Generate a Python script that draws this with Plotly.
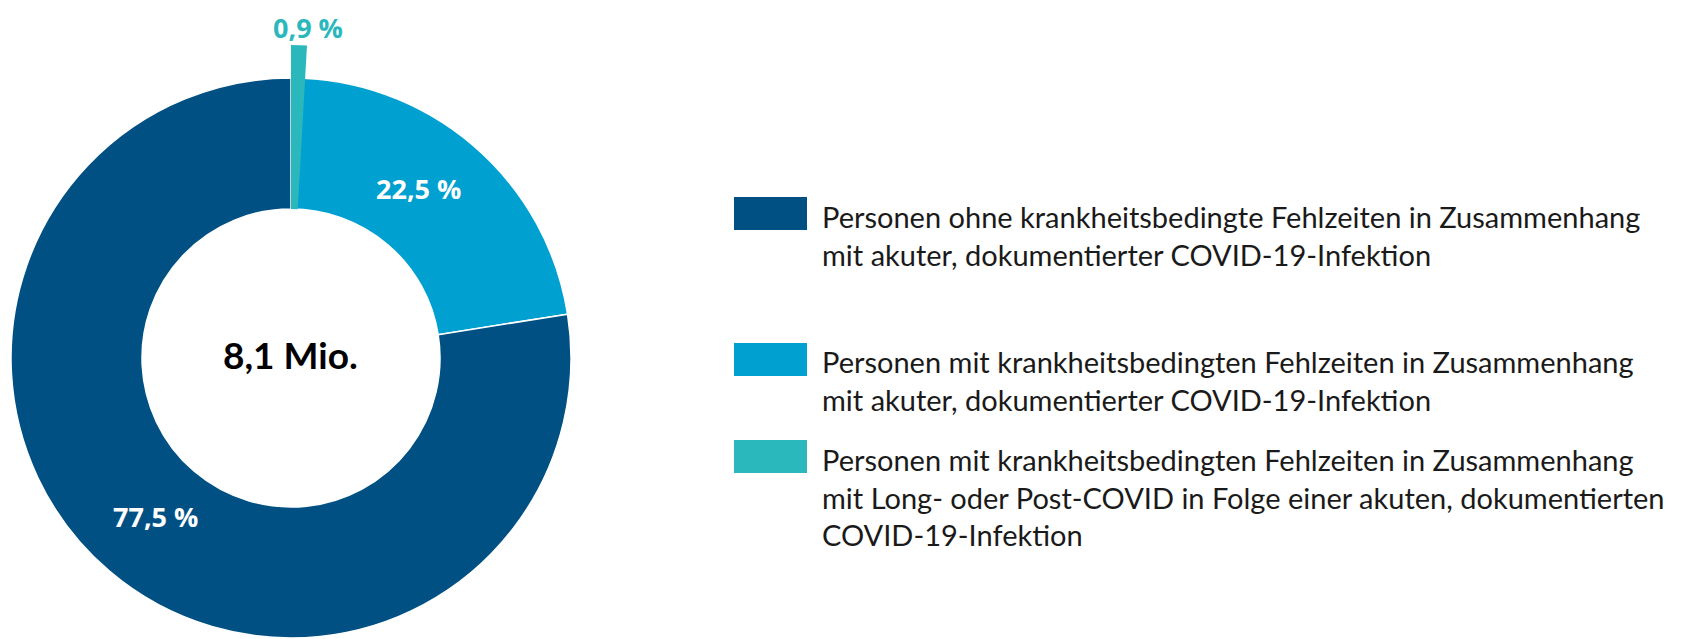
import plotly.graph_objects as go

# share of persons (in %) among 8.1 million insured persons
ring_labels = ["mit Fehlzeiten (akute COVID-19-Infektion)", "ohne Fehlzeiten"]
ring_values = [22.5, 77.5]
long_covid_value = 0.9
total_text = "8,1 Mio."

legend_labels = [
    "Personen ohne krankheitsbedingte Fehlzeiten in Zusammenhang<br>mit akuter, dokumentierter COVID-19-Infektion",
    "Personen mit krankheitsbedingten Fehlzeiten in Zusammenhang<br>mit akuter, dokumentierter COVID-19-Infektion",
    "Personen mit krankheitsbedingten Fehlzeiten in Zusammenhang<br>mit Long- oder Post-COVID in Folge einer akuten, dokumentierten<br>COVID-19-Infektion",
]

dark_blue = "#005084"
light_blue = "#00A0D0"
teal = "#2AB8BC"
legend_colors = [dark_blue, light_blue, teal]

W, H = 1692, 639
OFF = 8  # page body margin
cx, cy = 291 - OFF, 358 - OFF  # ring centre in px inside the figure
r_out, r_in = 280, 149
teal_top = 45 - OFF


def pct(v):
    return f"{v:.1f}".replace(".", ",") + " %"


def px(x):
    return (x - OFF) / W


def py(y):
    return 1 - (y - OFF) / H


def fx(x):
    return x / W


def fy(y):
    return 1 - y / H


fig = go.Figure()

# main ring
fig.add_trace(
    go.Pie(
        labels=ring_labels,
        values=ring_values,
        hole=r_in / r_out,
        sort=False,
        direction="clockwise",
        rotation=0,
        textinfo="none",
        marker=dict(colors=[light_blue, dark_blue], line=dict(color="white", width=1.5)),
        domain=dict(
            x=[fx(cx - r_out), fx(cx + r_out)],
            y=[fy(cy + r_out), fy(cy - r_out)],
        ),
        showlegend=False,
        hoverinfo="label+percent",
    )
)

# long/post covid wedge sticking out of the ring
r_t = cx
cy_t = teal_top + r_t
fig.add_trace(
    go.Pie(
        labels=["Long-/Post-COVID", ""],
        values=[long_covid_value, 100 - long_covid_value],
        hole=(cy_t - (cy - r_in)) / r_t,
        sort=False,
        direction="clockwise",
        rotation=0,
        textinfo="none",
        marker=dict(colors=[teal, "rgba(0,0,0,0)"], line=dict(width=0)),
        domain=dict(
            x=[0, fx(2 * r_t)],
            y=[fy(cy_t + r_t), fy(cy_t - r_t)],
        ),
        showlegend=False,
        hoverinfo="skip",
    )
)

label_font = dict(family="Open Sans", size=27, color="white")
annotations = [
    dict(x=px(418), y=py(188), text="<b>" + pct(ring_values[0]) + "</b>", font=label_font),
    dict(x=px(155), y=py(516), text="<b>" + pct(ring_values[1]) + "</b>", font=label_font),
    dict(x=px(290), y=py(355), text="<b>" + total_text + "</b>",
         font=dict(family="Lato", size=37, color="black")),
]
for a in annotations:
    a["xanchor"] = "center"
    a["yanchor"] = "middle"

# label of the small wedge, kept inside the top edge
annotations.append(dict(x=px(308), y=1, xanchor="center", yanchor="top", borderpad=0,
                        text="<b>" + pct(long_covid_value) + "</b>",
                        font=dict(family="Open Sans", size=27, color=teal)))

shapes = []
legend_tops = [197, 343, 440]
legend_mids = [235.5, 380, 496.5]
for top, mid, lab, col in zip(legend_tops, legend_mids, legend_labels, legend_colors):
    shapes.append(dict(type="rect", xref="paper", yref="paper",
                       x0=px(734), x1=px(807), y0=py(top), y1=py(top + 33),
                       fillcolor=col, line=dict(width=0)))
    annotations.append(dict(x=px(820), y=py(mid), xanchor="left", yanchor="middle",
                            align="left", text=lab,
                            font=dict(family="Lato", size=29, color="#1a1a1a")))

for a in annotations:
    a.setdefault("xref", "paper")
    a.setdefault("yref", "paper")
    a.setdefault("showarrow", False)

fig.update_layout(
    width=W,
    height=H,
    margin=dict(l=0, r=0, t=0, b=0),
    paper_bgcolor="white",
    plot_bgcolor="white",
    annotations=annotations,
    shapes=shapes,
)

fig.write_html("out.html")
